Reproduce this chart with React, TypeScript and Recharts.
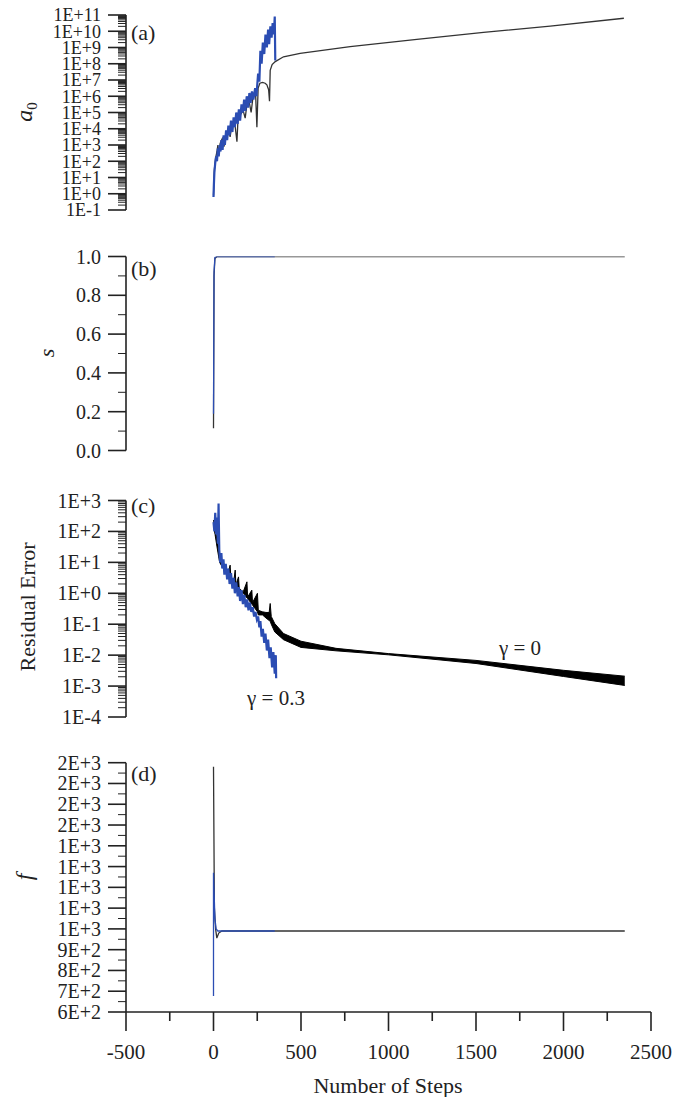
import React from 'react';
import { ComposedChart, Line, Area, XAxis, YAxis } from 'recharts';

const W = 688;
const H = 1097;
const SERIF = "'Liberation Serif', 'Times New Roman', serif";
const BLUE = '#2b4db3';
const DARK = '#333333';

// shared x axis
const X_MAJOR = [-500, 0, 500, 1000, 1500, 2000, 2500];
const X_MINOR = [-250, 250, 750, 1250, 1750, 2250];

// (a) a0, log10 values
const aBlackSteps = [0, 5, 12, 20, 25, 30, 38, 50, 60, 70, 85, 95, 105, 120, 134, 140, 155, 170, 181, 190, 205, 215, 225, 240, 248, 255, 265, 280, 295, 305, 315, 320, 324, 335, 353, 400, 495, 781, 1162, 1543, 1924, 2345];
const aBlackLog = [-0.1, 1.5, 2.2, 2.6, 3.0, 2.4, 3.1, 3.4, 2.9, 3.6, 4.0, 3.5, 4.2, 4.5, 3.2, 4.6, 4.9, 5.1, 4.65, 5.4, 5.6, 5.0, 5.9, 6.3, 4.1, 6.5, 6.8, 6.85, 6.8, 6.7, 6.4, 5.7, 7.6, 7.95, 8.13, 8.43, 8.64, 9.05, 9.5, 9.93, 10.32, 10.8];
const aBlueSteps = [0, 2, 5, 10, 15, 20, 25, 30, 35, 40, 45, 52, 58, 65, 72, 78, 85, 92, 100, 108, 115, 122, 130, 138, 145, 152, 160, 168, 175, 182, 190, 198, 205, 212, 220, 228, 238, 245, 255, 262, 268, 275, 282, 290, 297, 305, 312, 318, 325, 332, 338, 345, 350, 353];
const aBlueLog = [-0.2, 0.5, 1.3, 1.9, 2.3, 2.0, 2.8, 2.3, 3.0, 2.6, 3.3, 2.7, 3.6, 3.0, 3.9, 3.3, 4.2, 3.6, 4.5, 3.8, 4.7, 4.1, 5.0, 4.3, 5.2, 4.5, 5.5, 5.0, 5.8, 5.1, 6.0, 5.3, 6.2, 5.6, 6.3, 5.8, 6.5, 6.0, 7.4, 6.9, 8.8, 8.0, 9.3, 8.6, 9.8, 9.0, 10.1, 9.2, 10.3, 9.6, 10.5, 9.8, 10.9, 8.2];
const aTicks = [0.1, 1, 10, 1e2, 1e3, 1e4, 1e5, 1e6, 1e7, 1e8, 1e9, 1e10, 1e11];
const aLabels = ['1E-1', '1E+0', '1E+1', '1E+2', '1E+3', '1E+4', '1E+5', '1E+6', '1E+7', '1E+8', '1E+9', '1E+10', '1E+11'];

// (b) s
const sBlackSteps = [0, 3, 8, 20, 2350];
const sBlackVals = [0.115, 0.9, 0.99, 1.0, 1.0];
const sBlueSteps = [0, 3, 8, 20, 350];
const sBlueVals = [0.19, 0.92, 0.995, 1.0, 1.0];
const sTicks = [0, 0.2, 0.4, 0.6, 0.8, 1.0];
const sLabels = ['0.0', '0.2', '0.4', '0.6', '0.8', '1.0'];
const sMinor = [0.1, 0.3, 0.5, 0.7, 0.9];

// (c) residual error, log10 values; gamma = 0 drawn as a band
const cBlackSteps = [0, 9, 20, 29, 35, 45, 57, 62, 80, 95, 100, 115, 124, 128, 143, 147, 170, 191, 195, 219, 223, 251, 256, 280, 300, 318, 324, 330, 350, 400, 500, 700, 1000, 1500, 2000, 2350];
const cBlackLoLog = [2.2, 1.9, 1.5, 1.2, 1.0, 0.9, 0.8, 0.7, 0.55, 0.45, 0.4, 0.3, 0.25, 0.22, 0.15, 0.1, 0.0, -0.15, -0.17, -0.35, -0.38, -0.6, -0.7, -0.7, -0.8, -0.88, -0.9, -1.0, -1.25, -1.5, -1.75, -1.86, -1.99, -2.27, -2.69, -2.98];
const cBlackHiLog = [2.37, 2.15, 1.7, 1.5, 1.1, 0.95, 1.02, 0.75, 0.6, 0.91, 0.45, 0.35, 0.75, 0.27, 0.53, 0.15, 0.05, 0.37, -0.12, 0.1, -0.3, 0.0, -0.55, -0.6, -0.62, -0.62, -0.33, -0.75, -0.98, -1.3, -1.55, -1.78, -1.95, -2.17, -2.49, -2.68];
const cBlueSteps = [0, 5, 10, 15, 20, 25, 29, 33, 38, 45, 50, 57, 62, 70, 78, 85, 92, 100, 108, 115, 122, 130, 138, 145, 152, 160, 168, 176, 184, 192, 200, 208, 216, 224, 232, 240, 248, 255, 262, 268, 275, 282, 290, 297, 305, 312, 320, 327, 335, 342, 350, 356, 358];
const cBlueLog = [2.3, 2.0, 2.6, 1.9, 2.45, 1.6, 2.9, 1.4, 1.0, 1.3, 0.8, 1.1, 0.6, 0.95, 0.45, 0.8, 0.3, 0.65, 0.15, 0.5, 0.0, 0.35, -0.1, 0.2, -0.25, 0.1, -0.35, -0.05, -0.45, -0.2, -0.55, -0.3, -0.6, -0.45, -0.75, -0.6, -0.85, -0.75, -1.1, -0.9, -1.4, -1.15, -1.6, -1.3, -1.85, -1.5, -2.1, -1.75, -2.4, -1.9, -2.6, -2.0, -2.75];
const cTicks = [1e-4, 1e-3, 1e-2, 0.1, 1, 10, 1e2, 1e3];
const cLabels = ['1E-4', '1E-3', '1E-2', '1E-1', '1E+0', '1E+1', '1E+2', '1E+3'];

// (d) f
const fBlackSteps = [0, 5, 12, 19, 30, 48, 2350];
const fBlackVals = [1780, 1100, 1000, 956, 980, 990, 990];
const fBlueSteps = [0, 0, 8, 15, 25, 350];
const fBlueVals = [677, 1270, 1050, 1000, 990, 990];
const fTicks = [600, 700, 800, 900, 1000, 1100, 1200, 1300, 1400, 1500, 1600, 1700, 1800];
const fLabels = ['6E+2', '7E+2', '8E+2', '9E+2', '1E+3', '1E+3', '1E+3', '1E+3', '1E+3', '2E+3', '2E+3', '2E+3', '2E+3'];
const fMinor = [650, 750, 850, 950, 1050, 1150, 1250, 1350, 1450, 1550, 1650, 1750];

const toRows = (steps: number[], vals: number[]) => steps.map((s, i) => ({ step: s, v: vals[i] }));
const toLogRows = (steps: number[], logs: number[]) => steps.map((s, i) => ({ step: s, v: Math.pow(10, logs[i]) }));

// minor tick positions on a log axis (2..9 in each decade)
const logMinors = (lo: number, hi: number) => {
  const out: number[] = [];
  for (let d = lo; d < hi; d++) for (let m = 2; m <= 9; m++) out.push(m * Math.pow(10, d));
  return out;
};

const YTick = (props: any) => {
  const { x, y, payload, majors, labels, fs } = props;
  const i = majors.indexOf(payload.value);
  const major = i >= 0;
  return (
    <g>
      <line x1={x - (major ? 18 : 8)} x2={x} y1={y} y2={y} stroke="#222" strokeWidth={major ? 1.6 : 1} />
      {major && (
        <text x={x - 25} y={y} dy="0.35em" textAnchor="end" fontSize={fs} fill="#222" fontFamily={SERIF}>
          {labels[i]}
        </text>
      )}
    </g>
  );
};

const XTick = (props: any) => {
  const { x, y, payload } = props;
  const major = X_MAJOR.indexOf(payload.value) >= 0;
  return (
    <g>
      <line x1={x} x2={x} y1={y} y2={y + (major ? 19 : 9)} stroke="#222" strokeWidth={1.6} />
      {major && (
        <text x={x} y={y + 40} dy="0.35em" textAnchor="middle" fontSize={21} fill="#222" fontFamily={SERIF}>
          {payload.value}
        </text>
      )}
    </g>
  );
};

const Panel = ({ top, bottom, scale, domain, majors, labels, minors, showX, fs = 20, children }: any) => (
  <div style={{ position: 'absolute', left: 0, top: 0 }}>
    <ComposedChart width={W} height={H} margin={{ top, bottom: H - bottom - (showX ? 60 : 0), left: 66, right: 37 }}>
      <XAxis
        type="number"
        dataKey="step"
        domain={[-500, 2500]}
        ticks={[...X_MAJOR, ...X_MINOR].sort((a, b) => a - b)}
        interval={0}
        hide={!showX}
        height={60}
        tickSize={0}
        tickMargin={0}
        axisLine={{ stroke: '#222', strokeWidth: 1.6 }}
        tickLine={false}
        tick={(p: any) => <XTick {...p} />}
        allowDataOverflow
      />
      <YAxis
        type="number"
        scale={scale}
        domain={domain}
        ticks={[...majors, ...minors].sort((a: number, b: number) => a - b)}
        interval={0}
        width={60}
        tickSize={0}
        tickMargin={0}
        axisLine={{ stroke: '#222', strokeWidth: 1.6 }}
        tickLine={false}
        tick={(p: any) => <YTick {...p} majors={majors} labels={labels} fs={fs} />}
        allowDataOverflow
      />
      {children}
    </ComposedChart>
  </div>
);

const lineProps = { dataKey: 'v', type: 'linear' as const, dot: false, activeDot: false, isAnimationActive: false };

const App = () => {
  const cBand = cBlackSteps.map((s, i) => ({ step: s, range: [Math.pow(10, cBlackLoLog[i]), Math.pow(10, cBlackHiLog[i])] }));
  return (
    <div style={{ position: 'absolute', left: 0, top: 0, width: W, height: H, background: '#fff', fontFamily: SERIF }}>
      <Panel top={15} bottom={210} scale="log" domain={[0.1, 1e11]} majors={aTicks} labels={aLabels} minors={logMinors(-1, 11)} fs={18}>
        <Line {...lineProps} data={toLogRows(aBlackSteps, aBlackLog)} stroke={DARK} strokeWidth={1.3} />
        <Line {...lineProps} data={toLogRows(aBlueSteps, aBlueLog)} stroke={BLUE} strokeWidth={2.2} />
      </Panel>
      <Panel top={256.5} bottom={450.5} scale="linear" domain={[0, 1]} majors={sTicks} labels={sLabels} minors={sMinor}>
        <Line {...lineProps} data={toRows(sBlackSteps, sBlackVals)} stroke={DARK} strokeWidth={1.3} />
        <Line {...lineProps} data={toRows(sBlueSteps, sBlueVals)} stroke={BLUE} strokeWidth={1.3} />
      </Panel>
      <Panel top={500.5} bottom={717} scale="log" domain={[1e-4, 1e3]} majors={cTicks} labels={cLabels} minors={logMinors(-4, 3)}>
        <Area data={cBand} dataKey="range" type="linear" stroke="#000" strokeWidth={1} fill="#000" fillOpacity={1} dot={false} activeDot={false} isAnimationActive={false} />
        <Line {...lineProps} data={toLogRows(cBlueSteps, cBlueLog)} stroke={BLUE} strokeWidth={2.2} />
      </Panel>
      <Panel top={762.7} bottom={1012} scale="linear" domain={[600, 1800]} majors={fTicks} labels={fLabels} minors={fMinor} showX>
        <Line {...lineProps} data={toRows(fBlackSteps, fBlackVals)} stroke={DARK} strokeWidth={1.3} />
        <Line {...lineProps} data={toRows(fBlueSteps, fBlueVals)} stroke={BLUE} strokeWidth={1.3} />
      </Panel>
      <svg width={W} height={H} style={{ position: 'absolute', left: 0, top: 0, pointerEvents: 'none' }} fontFamily={SERIF} fill="#222">
        <text x={131} y={32} dy="0.35em" fontSize={22}>(a)</text>
        <text x={131} y={268} dy="0.35em" fontSize={22}>(b)</text>
        <text x={131} y={505} dy="0.35em" fontSize={22}>(c)</text>
        <text x={131} y={773} dy="0.35em" fontSize={22}>(d)</text>
        <text transform="translate(32,112) rotate(-90)" textAnchor="middle" fontSize={24} fontStyle="italic">
          a<tspan fontSize={15} dy={5} fontStyle="normal">0</tspan>
        </text>
        <text transform="translate(54,353) rotate(-90)" textAnchor="middle" fontSize={22} fontStyle="italic">s</text>
        <text transform="translate(35,607) rotate(-90)" textAnchor="middle" fontSize={22}>Residual Error</text>
        <text transform="translate(32,877) rotate(-90)" textAnchor="middle" fontSize={24} fontStyle="italic">f</text>
        <text x={276} y={698} dy="0.35em" textAnchor="middle" fontSize={21}>γ = 0.3</text>
        <text x={520} y={648} dy="0.35em" textAnchor="middle" fontSize={21}>γ = 0</text>
        <text x={388} y={1085} dy="0.35em" textAnchor="middle" fontSize={22}>Number of Steps</text>
      </svg>
    </div>
  );
};

export default App;
